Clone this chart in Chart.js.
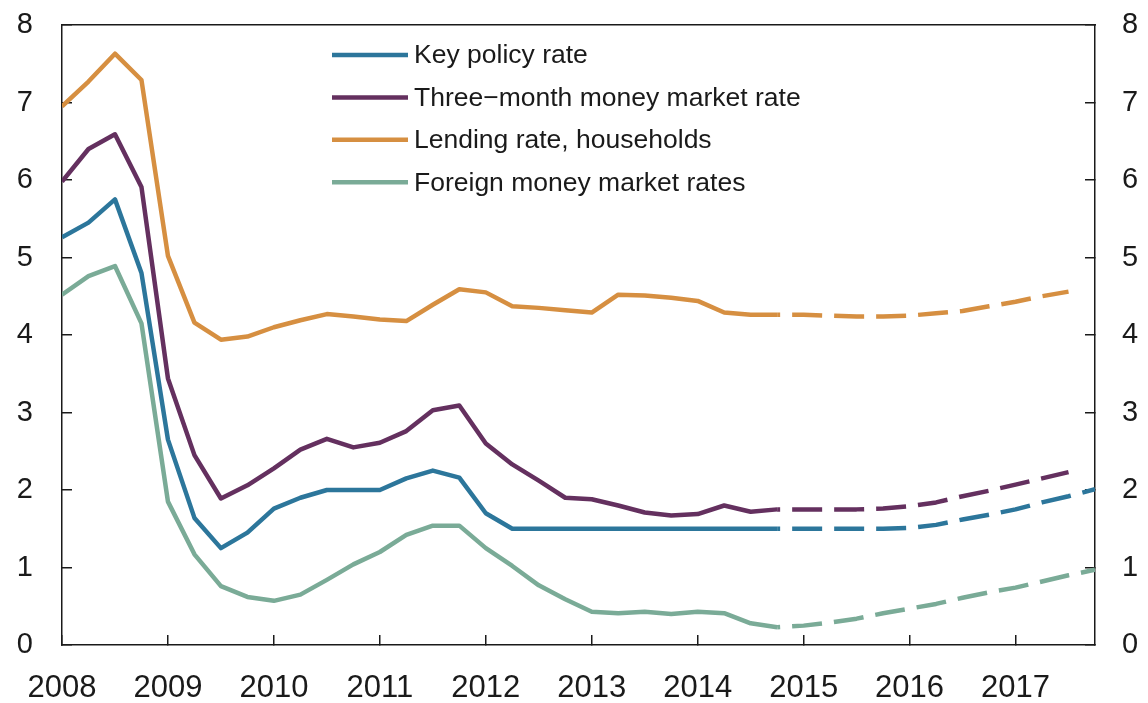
<!DOCTYPE html>
<html>
<head>
<meta charset="utf-8">
<script src="https://cdn.jsdelivr.net/npm/chart.js@4"></script>
<style>
  html, body { margin: 0; padding: 0; background: #fff; }
  canvas { display: block; }
</style>
</head>
<body>
<canvas id="rates" width="1148" height="703"></canvas>
<script>
"use strict";

// quarters 2008Q1 .. 2017Q4, projections from 2014Q4 onwards
const years = [2008, 2009, 2010, 2011, 2012, 2013, 2014, 2015, 2016, 2017];
const quarters = [];
years.forEach(function (y) { for (let q = 0; q < 4; q++) quarters.push(y + q / 4); });
const forecastFrom = 2014.75;

const keyPolicyRate = [5.26, 5.45, 5.75, 4.80, 2.65, 1.64, 1.25, 1.45, 1.76, 1.90,
  2.00, 2.00, 2.00, 2.15, 2.25, 2.16, 1.70, 1.50, 1.50, 1.50,
  1.50, 1.50, 1.50, 1.50, 1.50, 1.50, 1.50, 1.50, 1.50, 1.50,
  1.50, 1.50, 1.51, 1.55, 1.62, 1.68, 1.75, 1.84, 1.92, 2.01];
const threeMonthRate = [5.98, 6.40, 6.59, 5.91, 3.44, 2.45, 1.89, 2.06, 2.28, 2.52,
  2.66, 2.55, 2.61, 2.76, 3.03, 3.09, 2.60, 2.33, 2.12, 1.90,
  1.88, 1.80, 1.71, 1.67, 1.69, 1.80, 1.72, 1.75, 1.75, 1.75,
  1.75, 1.76, 1.79, 1.84, 1.92, 1.99, 2.07, 2.15, 2.23, null];
const lendingRate = [6.95, 7.27, 7.63, 7.29, 5.02, 4.16, 3.94, 3.98, 4.10, 4.19,
  4.27, 4.24, 4.20, 4.18, 4.39, 4.59, 4.55, 4.37, 4.35, 4.32,
  4.29, 4.52, 4.51, 4.48, 4.44, 4.29, 4.26, 4.26, 4.26, 4.25,
  4.24, 4.24, 4.25, 4.28, 4.31, 4.37, 4.43, 4.50, 4.56, null];
const foreignRates = [4.52, 4.76, 4.89, 4.15, 1.85, 1.17, 0.76, 0.62, 0.57, 0.65,
  0.84, 1.04, 1.20, 1.42, 1.54, 1.54, 1.25, 1.02, 0.77, 0.59,
  0.43, 0.41, 0.43, 0.40, 0.43, 0.41, 0.28, 0.23, 0.25, 0.29,
  0.34, 0.41, 0.47, 0.53, 0.61, 0.68, 0.74, 0.82, 0.90, 0.97];

const seriesNames = ['Key policy rate', 'Three\u2212month money market rate',
  'Lending rate, households', 'Foreign money market rates'];
const seriesColors = ['#2c769b', '#64305f', '#d68f41', '#7aab97'];
const yTicks = [0, 1, 2, 3, 4, 5, 6, 7, 8];

const FONT = "'Liberation Sans', Arial, Helvetica, sans-serif";
const INK = '#1a1a1a';

function points(values) {
  return values.map(function (v, i) { return { x: quarters[i], y: v }; });
}

function makeSet(i, values) {
  return {
    label: seriesNames[i],
    data: points(values),
    borderColor: seriesColors[i],
    backgroundColor: seriesColors[i],
    borderWidth: 4.5,
    borderJoinStyle: 'round',
    pointRadius: 0,
    tension: 0,
    segment: {
      borderDash: function (ctx) { return ctx.p0.parsed.x >= forecastFrom ? [30, 12] : undefined; },
      borderDashOffset: function (ctx) { return ctx.p0.parsed.x >= forecastFrom ? 27 : 0; }
    }
  };
}

// fixed box sizes so the plot area sits where the original has it
function fixSize(w, h) {
  return function (s) {
    if (w !== null) s.width = w;
    if (h !== null) s.height = h;
    s.paddingLeft = s.paddingRight = s.paddingTop = s.paddingBottom = 0;
  };
}

// legend drawn as a column inside the plot
const lineLegend = {
  id: 'lineLegend',
  afterDatasetsDraw: function (chart) {
    const ctx = chart.ctx;
    ctx.save();
    ctx.font = '26.5px ' + FONT;
    ctx.textBaseline = 'middle';
    ctx.textAlign = 'left';
    chart.data.datasets.forEach(function (ds, i) {
      const y = 55 + i * 42.4;
      ctx.strokeStyle = ds.borderColor;
      ctx.lineWidth = 4.5;
      ctx.beginPath();
      ctx.moveTo(332, y);
      ctx.lineTo(408, y);
      ctx.stroke();
      ctx.fillStyle = INK;
      ctx.fillText(ds.label, 414, y + 1);
    });
    ctx.restore();
  }
};

const axisBorder = { display: true, color: INK, width: 1.5 };
const tickGrid = { drawOnChartArea: false, color: INK, lineWidth: 1.5, tickLength: -10 };

new Chart(document.getElementById('rates'), {
  type: 'line',
  data: {
    datasets: [
      makeSet(0, keyPolicyRate),
      makeSet(1, threeMonthRate),
      makeSet(2, lendingRate),
      makeSet(3, foreignRates)
    ]
  },
  options: {
    responsive: false,
    animation: false,
    layout: { padding: 0 },
    plugins: { legend: { display: false }, tooltip: { enabled: false } },
    scales: {
      x: {
        type: 'linear',
        position: 'bottom',
        min: years[0],
        max: 2017.75,
        afterFit: fixSize(null, 58),
        border: axisBorder,
        grid: tickGrid,
        ticks: {
          stepSize: 1,
          includeBounds: false,
          maxRotation: 0,
          autoSkip: false,
          padding: 34.5,
          color: INK,
          font: { family: FONT, size: 31, lineHeight: 1.2 },
          callback: function (v) { return String(v); }
        }
      },
      xTop: {
        type: 'linear',
        position: 'top',
        min: years[0],
        max: 2017.75,
        afterFit: fixSize(null, 25),
        border: axisBorder,
        grid: { drawOnChartArea: false, drawTicks: false },
        ticks: { display: false }
      },
      y: {
        position: 'left',
        min: yTicks[0],
        max: yTicks[yTicks.length - 1],
        afterFit: fixSize(62, null),
        border: axisBorder,
        grid: tickGrid,
        ticks: {
          stepSize: 1,
          padding: 39,
          color: INK,
          font: { family: FONT, size: 29 },
          callback: function (v) { return yTicks.indexOf(v) >= 0 ? String(v) : ''; }
        }
      },
      yRight: {
        position: 'right',
        min: yTicks[0],
        max: yTicks[yTicks.length - 1],
        afterFit: fixSize(53, null),
        border: axisBorder,
        grid: tickGrid,
        ticks: {
          stepSize: 1,
          padding: 37,
          color: INK,
          font: { family: FONT, size: 29 },
          callback: function (v) { return yTicks.indexOf(v) >= 0 ? String(v) : ''; }
        }
      }
    }
  },
  plugins: [lineLegend]
});
</script>
</body>
</html>
